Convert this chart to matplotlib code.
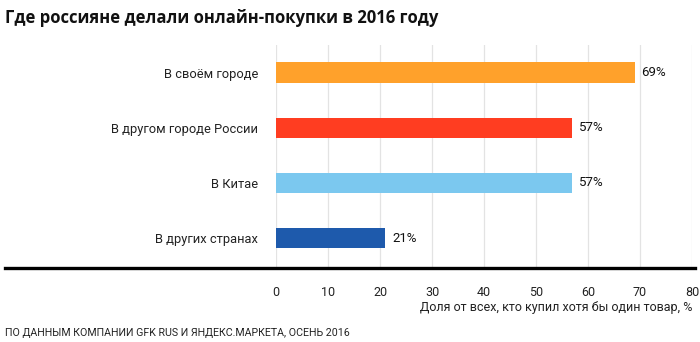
import matplotlib
matplotlib.use("Agg")
import matplotlib.pyplot as plt
from matplotlib.lines import Line2D

categories = ["В своём городе", "В другом городе России", "В Китае", "В других странах"]
values = [69, 57, 57, 21]
colors = ["#FFA12B", "#FF3D21", "#7BC8EF", "#1E5AAC"]
xticks = [0, 10, 20, 30, 40, 50, 60, 70, 80]

plt.rcParams["font.family"] = ["Roboto", "DejaVu Sans"]

W, H = 700, 342
fig = plt.figure(figsize=(W / 100, H / 100), dpi=100)
ax = fig.add_axes([276 / W, 1 - 268 / H, (692 - 276) / W, (268 - 45) / H])

ypos = list(range(len(categories)))
ax.barh(ypos, values, height=0.37, color=colors, zorder=3)
for y, v in zip(ypos, values):
    ax.text(v + 1.3, y, f"{v}%", va="center", ha="left", fontsize=9.5, color="#111111")

ax.set_xlim(0, 80)
ax.set_ylim(3.54, -0.5)
ax.set_xticks(xticks)
ax.set_xticklabels([str(t) for t in xticks], fontsize=9, color="#222222")
ax.set_yticks(ypos)
ax.set_yticklabels(categories, fontsize=9.3, color="#222222")
ax.tick_params(axis="both", length=0)
ax.tick_params(axis="x", pad=13)
ax.tick_params(axis="y", pad=13)
ax.grid(axis="x", color="#E3E3E3", linewidth=0.9, zorder=0)
for s in ax.spines.values():
    s.set_visible(False)

# thick baseline across the figure
fig.add_artist(Line2D([5 / W, 695 / W], [1 - 268 / H, 1 - 268 / H], color="black",
                      linewidth=2.4, transform=fig.transFigure))

fig.text(5 / W, 1 - 18 / H, "Где россияне делали онлайн-покупки в 2016 году",
         fontsize=12, fontweight="bold", family=["Open Sans", "DejaVu Sans"],
         ha="left", va="center", color="#111111")
fig.text(692 / W, 1 - 307 / H, "Доля от всех, кто купил хотя бы один товар, %",
         fontsize=9, ha="right", va="center", color="#222222")
fig.text(5 / W, 1 - 333 / H, "ПО ДАННЫМ КОМПАНИИ GFK RUS И ЯНДЕКС.МАРКЕТА, ОСЕНЬ 2016",
         fontsize=7.7, ha="left", va="center", color="#222222")

fig.savefig("out.png", dpi=100)
